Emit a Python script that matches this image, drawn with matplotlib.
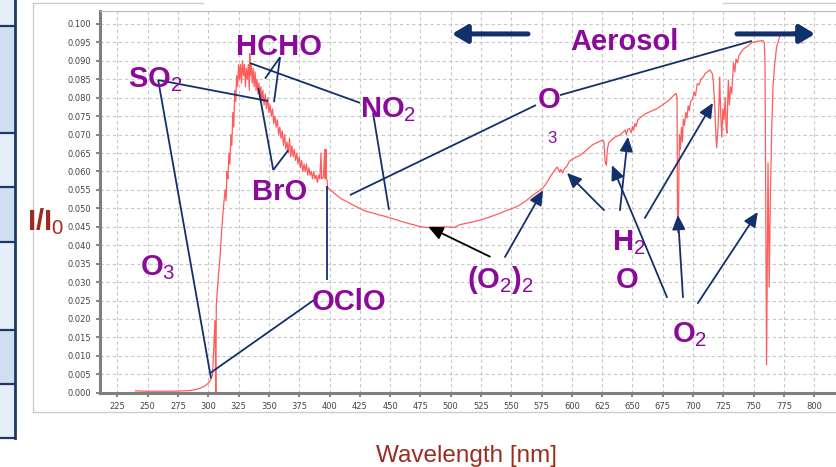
import numpy as np
import matplotlib
matplotlib.use("Agg")
import matplotlib.pyplot as plt
from matplotlib.patches import Rectangle
from matplotlib.lines import Line2D

# Spectrum I/I0 read in three pieces: UV rise + Fraunhofer region, visible, near-IR
uv_nm = [240, 250, 260, 270, 280, 285, 290, 294, 297, 300, 302, 303.5, 304.5, 305.5,
         306.2, 306.6, 308.3, 309.7, 311, 312.4, 313.8, 314.6, 315.4, 316.2, 317,
         317.8, 318.6, 319.4, 320.2, 321, 321.8, 322.6, 323.4, 324.2, 325, 325.8,
         326.6, 327.4, 328.2, 329, 329.8, 330.6, 331.4, 332.2, 333, 333.8, 334.2,
         334.6, 335.4, 336.2, 337, 337.8, 338.6, 339.4, 340.2, 341, 341.8, 342.6,
         343.4, 344.2, 345, 346, 347, 348, 349, 350, 351, 352, 353, 354, 355, 356,
         357, 358, 359, 360, 361, 362, 363, 364, 365, 366, 367, 368, 369, 370, 371,
         372, 373, 374, 375, 376, 377, 378, 379, 380, 381, 382, 383, 384, 385, 386,
         387, 388, 389, 390, 391, 392, 393, 393.5, 395, 396, 396.5, 397, 397.5, 398,
         398.5]
uv_val = [0.0005, 0.0004, 0.0004, 0.0004, 0.0005, 0.0006, 0.0009, 0.0013, 0.0018,
          0.0026, 0.0035, 0.005, 0.012, 0.0196, 0.0, 0.024, 0.0315, 0.037, 0.044,
          0.050, 0.055, 0.052, 0.060, 0.058, 0.065, 0.062, 0.070, 0.067, 0.076,
          0.072, 0.082, 0.079, 0.086, 0.083, 0.089, 0.085, 0.089, 0.084, 0.090,
          0.086, 0.089, 0.083, 0.088, 0.085, 0.089, 0.082, 0.092, 0.086, 0.089,
          0.084, 0.088, 0.083, 0.087, 0.082, 0.085, 0.081, 0.084, 0.080, 0.083,
          0.079, 0.082, 0.078, 0.081, 0.077, 0.080, 0.076, 0.078, 0.075, 0.077,
          0.073, 0.075, 0.072, 0.074, 0.070, 0.072, 0.069, 0.071, 0.067, 0.070,
          0.066, 0.068, 0.065, 0.069, 0.064, 0.067, 0.064, 0.066, 0.063, 0.065,
          0.062, 0.064, 0.061, 0.063, 0.060, 0.062, 0.060, 0.062, 0.059, 0.061,
          0.059, 0.060, 0.058, 0.060, 0.058, 0.059, 0.057, 0.059, 0.058, 0.065,
          0.058, 0.0585, 0.066, 0.058, 0.066, 0.058, 0.0577, 0.0555]

vis_nm = [399, 405, 410, 415, 420, 425, 430, 435, 440, 445, 450, 455, 460, 465, 470,
          475, 480, 485, 490, 495, 500, 503, 507, 512, 518, 524, 530, 535, 541, 546,
          552, 557, 562, 568, 572, 576, 579, 582, 584.5, 586, 588, 589, 590, 591,
          592.5, 594, 596, 598]
vis_val = [0.0555, 0.0538, 0.0525, 0.0517, 0.0508, 0.0500, 0.0492, 0.0488, 0.0483,
           0.0479, 0.0474, 0.0469, 0.0464, 0.0459, 0.0455, 0.0450, 0.0448, 0.0449,
           0.0449, 0.0450, 0.0449, 0.0448, 0.0455, 0.0459, 0.0463, 0.0468, 0.0474,
           0.0480, 0.0487, 0.0494, 0.0501, 0.0509, 0.0520, 0.0536, 0.0545, 0.0555,
           0.0568, 0.0585, 0.0597, 0.0605, 0.0612, 0.0605, 0.0598, 0.0606, 0.0596,
           0.0608, 0.0615, 0.0628]

nir_nm = [600, 603, 607, 611, 614, 617, 620, 623, 625.7, 626.5, 627.5, 628.5, 629.3,
          630.5, 633, 636, 639.7, 642, 644, 645, 646, 647.5, 649, 650, 651, 652, 653,
          654.5, 656, 660, 665, 670, 675, 680, 684, 686, 686.8, 687.3, 688, 688.8,
          689.6, 690.5, 691.3, 692, 693, 694, 695, 696, 697, 698, 699.4, 701, 702,
          703.5, 705, 706.5, 708.4, 710, 712.6, 714, 716, 717, 718, 719, 719.5, 720.5,
          721.2, 722, 722.8, 723.8, 724.6, 725.5, 726.6, 727.3, 728, 728.6, 729.2,
          730, 731, 732, 733.4, 734.5, 735.5, 736.7, 738, 740, 742, 745, 749, 753,
          757.6, 758.8, 759.4, 760, 760.7, 761.4, 761.9, 762.4, 762.9, 763.5, 764,
          765, 766, 767.5, 769, 771.7, 775, 780, 785, 788, 789, 790]
nir_val = [0.0632, 0.0638, 0.0644, 0.0655, 0.0664, 0.0672, 0.0677, 0.0682, 0.0685,
           0.0680, 0.0625, 0.0617, 0.0660, 0.0678, 0.0686, 0.0694, 0.0699, 0.0706,
           0.0712, 0.0700, 0.0714, 0.0717, 0.0705, 0.0722, 0.0712, 0.0730, 0.0722,
           0.0740, 0.0745, 0.0755, 0.0763, 0.0770, 0.0781, 0.0793, 0.0806, 0.0812,
           0.0800, 0.0435, 0.0480, 0.0700, 0.0660, 0.0720, 0.0680, 0.0742, 0.0725,
           0.0760, 0.0745, 0.0778, 0.0765, 0.0790, 0.0795, 0.0815, 0.0805, 0.0838,
           0.0835, 0.0850, 0.0856, 0.0865, 0.0872, 0.0875, 0.0865, 0.0835, 0.0770,
           0.0690, 0.0664, 0.0712, 0.0760, 0.0856, 0.0760, 0.0693, 0.0770, 0.0740,
           0.0800, 0.0720, 0.0704, 0.0790, 0.0848, 0.0780, 0.0830, 0.0812, 0.0895,
           0.0870, 0.0905, 0.0895, 0.0915, 0.0925, 0.0933, 0.0940, 0.0950, 0.0953,
           0.0955, 0.0950, 0.0900, 0.0500, 0.0075, 0.0400, 0.0623, 0.0450, 0.0287,
           0.0450, 0.0558, 0.0720, 0.0830, 0.0895, 0.0938, 0.0968, 0.0973, 0.0976,
           0.0980, 0.0983, 0.0975, 0.0948]

x_ticks = np.arange(225, 801, 25)
y_ticks = np.arange(0, 0.1001, 0.005)

W, H = 836, 467
purple = "#8b0a99"
navy = "#12306b"
dark_red = "#9a2d1f"

plt.rcParams["mathtext.fontset"] = "custom"
plt.rcParams["mathtext.rm"] = "Liberation Sans"
plt.rcParams["mathtext.it"] = "Liberation Sans"
plt.rcParams["mathtext.bf"] = "Liberation Sans:bold"

fig = plt.figure(figsize=(W / 100, H / 100), dpi=100)


def fpos(x, y):
    # pixel position -> figure fraction
    return x / W, 1 - y / H


# Table edge on the far left of the slide
rows = [0, 26, 133, 187, 242, 330, 384, 438]
for i in range(len(rows) - 1):
    shade = "#e4eff9" if i % 2 == 0 else "#cddff1"
    x0, y0 = fpos(0, rows[i + 1])
    fig.patches.append(Rectangle((x0, y0), 15 / W, (rows[i + 1] - rows[i]) / H,
                                 transform=fig.transFigure, facecolor=shade,
                                 edgecolor="none", zorder=0))
    if i > 0:
        fig.lines.append(Line2D([0, 15 / W], [1 - rows[i] / H] * 2,
                                transform=fig.transFigure, color="#1f3864", lw=1.6))
fig.lines.append(Line2D([0, 15 / W], [1 - 438 / H] * 2, transform=fig.transFigure,
                        color="#1f3864", lw=1.6))
fig.lines.append(Line2D([15 / W] * 2, [1, 1 - 438 / H], transform=fig.transFigure,
                        color="#1f3864", lw=2))

# Outer chart frame
frame_col = "#cccccc"
fig.lines.append(Line2D([33 / W] * 2, [1 - 3 / H, 1 - 412 / H],
                        transform=fig.transFigure, color=frame_col, lw=1))
fig.lines.append(Line2D([33 / W, 1], [1 - 412 / H] * 2,
                        transform=fig.transFigure, color=frame_col, lw=1))
fig.lines.append(Line2D([33 / W, 203 / W], [1 - 3 / H] * 2,
                        transform=fig.transFigure, color=frame_col, lw=1))
fig.lines.append(Line2D([723 / W, 1], [1 - 3 / H] * 2,
                        transform=fig.transFigure, color=frame_col, lw=1))

ax = fig.add_axes([100 / W, 1 - 392.7 / H, 1 - 100 / W, (392.7 - 10.7) / H])
ax.set_xlim(210.6, 818)
ax.set_ylim(0, 0.1036)

ax.plot(uv_nm + vis_nm + nir_nm, uv_val + vis_val + nir_val,
        color="#ff5c5c", lw=0.9, zorder=3)

ax.set_xticks(x_ticks)
ax.set_yticks(y_ticks)
ax.set_xticklabels([str(v) for v in x_ticks])
ax.set_yticklabels([f"{v:.3f}" for v in y_ticks])
ax.tick_params(colors="#888888", labelcolor="#444444", labelsize=6, length=3,
               width=1.5, pad=3.5)
ax.grid(True, color="#c8c8c8", lw=0.8, ls=(0, (3, 2.5)))
ax.set_axisbelow(True)
for side in ["left", "bottom"]:
    ax.spines[side].set_color("#7f7f7f")
    ax.spines[side].set_linewidth(2.2)
ax.spines["top"].set_color("#bbbbbb")
ax.spines["top"].set_linewidth(0.8)
ax.spines["right"].set_visible(False)

# Trace gas labels
lab = dict(color=purple, fontsize=21, fontweight="bold", family="Liberation Sans",
           ha="left", va="baseline", zorder=5)
ax.text(322.9, 0.0916, "HCHO", **lab)
ax.text(233.8, 0.0829, "SO$_2$", **lab)
ax.text(425.2, 0.0748, "NO$_2$", **lab)
ax.text(572.0, 0.0772, "O", **lab)
ax.text(579.5, 0.0677, "3", color=purple, fontsize=12, family="Liberation Sans",
        ha="left", va="baseline", zorder=5)
ax.text(598.4, 0.0929, "Aerosol", **lab)
ax.text(336.1, 0.0523, "BrO", **lab)
ax.text(243.6, 0.0319, "O$_3$", **lab)
ax.text(385.6, 0.0224, "OClO", **lab)
ax.text(513.4, 0.0284, "(O$_2$)$_2$", **lab)
ax.text(633.1, 0.0387, "H$_2$", **lab)
ax.text(636.4, 0.0284, "O", **lab)
ax.text(682.6, 0.0138, "O$_2$", **lab)

# Pointer lines without heads
segments = [
    ((258.6, 0.0848), (349.3, 0.0791)),
    ((258.6, 0.0848), (302.2, 0.0039)),
    ((301.4, 0.0053), (390.5, 0.0259)),
    ((398.0, 0.0561), (398.0, 0.0306)),
    ((359.2, 0.0910), (346.8, 0.0852)),
    ((359.2, 0.0910), (354.2, 0.0788)),
    ((334.4, 0.0894), (425.2, 0.0786)),
    ((435.9, 0.0759), (449.1, 0.0496)),
    ((341.3, 0.0826), (353.6, 0.0604)),
    ((353.6, 0.0604), (366.0, 0.0658)),
    ((590.2, 0.0807), (748.6, 0.0954)),
    ((570.4, 0.0780), (416.9, 0.0536)),
]
for (x0, y0), (x1, y1) in segments:
    ax.plot([x0, x1], [y0, y1], color=navy, lw=1.3, zorder=4,
            solid_capstyle="butt")

# Arrows pointing at absorption features
arrows = [
    ((544.8, 0.0368), (576.2, 0.0549)),
    ((626.5, 0.0495), (596.0, 0.0596)),
    ((639.7, 0.0495), (646.3, 0.0694)),
    ((660.3, 0.0474), (716.4, 0.0786)),
    ((678.5, 0.0259), (633.1, 0.0617)),
    ((691.7, 0.0259), (687.5, 0.0482)),
    ((704.0, 0.0243), (753.5, 0.0490)),
]
for tail, head in arrows:
    ax.annotate("", xy=head, xytext=tail, zorder=4,
                arrowprops=dict(arrowstyle="-|>,head_length=0.55,head_width=0.25",
                                mutation_scale=16, color=navy, lw=1.3,
                                shrinkA=0, shrinkB=0))
ax.annotate("", xy=(481.5, 0.0450), xytext=(532.4, 0.0369), zorder=4,
            arrowprops=dict(arrowstyle="-|>,head_length=0.55,head_width=0.25",
                            mutation_scale=16, color="black", lw=1.3,
                            shrinkA=0, shrinkB=0))

# Aerosol arrows
for tail, head in [((563.8, 0.0973), (501.1, 0.0973)),
                   ((736.3, 0.0973), (800.7, 0.0973))]:
    ax.annotate("", xy=head, xytext=tail, zorder=4,
                arrowprops=dict(arrowstyle="-|>,head_length=0.5,head_width=0.3",
                                mutation_scale=18, color=navy, lw=3.6,
                                shrinkA=0, shrinkB=0))

# Axis titles
fig.text(*fpos(27, 230), "I/I$_0$", color=dark_red, fontsize=21, fontweight="bold",
         family="Liberation Sans", ha="left", va="baseline")
fig.text(*fpos(466.5, 462), "Wavelength [nm]", color=dark_red, fontsize=17.5,
         family="Liberation Sans", ha="center", va="baseline")

plt.savefig("out.png", dpi=100)
